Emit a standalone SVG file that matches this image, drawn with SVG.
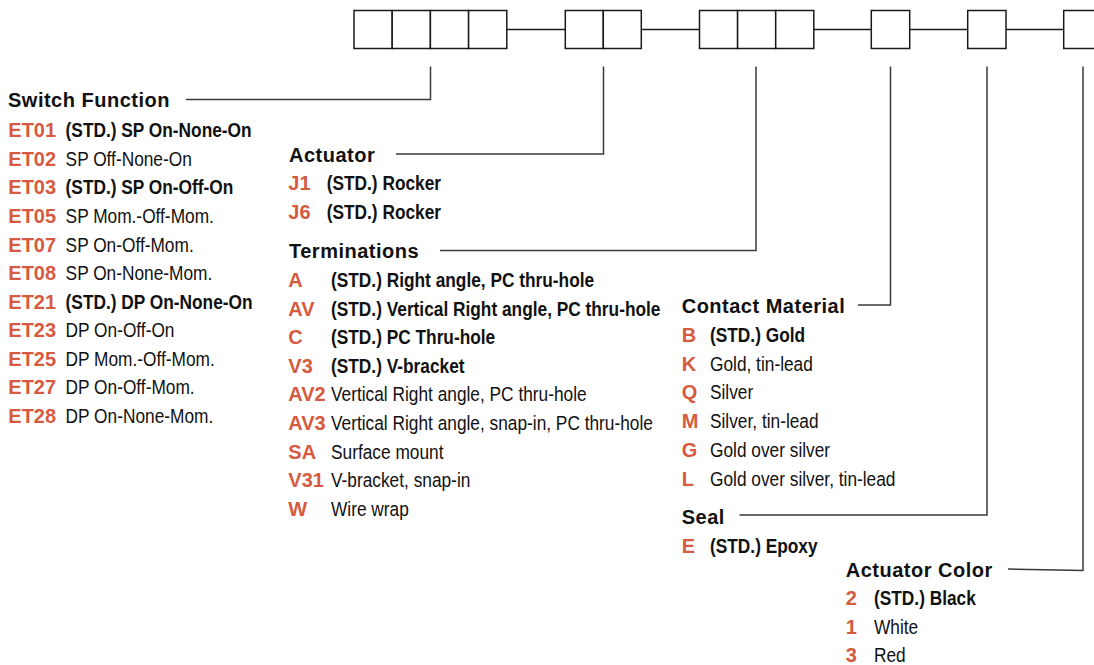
<svg xmlns="http://www.w3.org/2000/svg" width="1094" height="665" viewBox="0 0 1094 665">
<style>
.box{fill:#fff;stroke:#1a1a1a;stroke-width:1.5}
.lead{fill:none;stroke:#3a3a3a;stroke-width:1.5}
.join{fill:none;stroke:#1a1a1a;stroke-width:1.5}
.h{font-family:"Liberation Sans",Arial,sans-serif;font-weight:bold;font-size:20px;letter-spacing:0.5px;fill:#111}
.c{font-family:"Liberation Sans",Arial,sans-serif;font-weight:bold;font-size:20px;fill:#d65a3f}
.d{font-family:"Liberation Sans",Arial,sans-serif;font-size:19.5px;fill:#111}
.db{font-family:"Liberation Sans",Arial,sans-serif;font-size:19.5px;font-weight:bold;fill:#111}
</style>
<g id="connectors">
<line class="join" x1="506.8" y1="29.5" x2="565.3" y2="29.5"/>
<line class="join" x1="641.3" y1="29.5" x2="699.5" y2="29.5"/>
<line class="join" x1="813.8" y1="29.5" x2="871.3" y2="29.5"/>
<line class="join" x1="909.7" y1="29.5" x2="967.7" y2="29.5"/>
<line class="join" x1="1006" y1="29.5" x2="1063.7" y2="29.5"/>
<polyline class="lead" points="186,99.5 430.5,99.5 430.5,66.5"/>
<polyline class="lead" points="396,154 603.5,154 603.5,66.5"/>
<polyline class="lead" points="440,250.5 756,250.5 756,66.5"/>
<polyline class="lead" points="858,305 890.5,305 890.5,66.5"/>
<polyline class="lead" points="739.5,515 987,515 987,66.5"/>
<polyline class="lead" points="1008,569 1083,570.5 1083,66.5"/>
</g>
<g id="box-switch-function">
<rect class="box" x="354" y="10.5" width="38.2" height="38"/>
<rect class="box" x="392.2" y="10.5" width="38.2" height="38"/>
<rect class="box" x="430.4" y="10.5" width="38.2" height="38"/>
<rect class="box" x="468.6" y="10.5" width="38.2" height="38"/>
</g>
<g id="box-actuator">
<rect class="box" x="565.3" y="10.5" width="38" height="38"/>
<rect class="box" x="603.3" y="10.5" width="38" height="38"/>
</g>
<g id="box-terminations">
<rect class="box" x="699.5" y="10.5" width="38.1" height="38"/>
<rect class="box" x="737.6" y="10.5" width="38.1" height="38"/>
<rect class="box" x="775.7" y="10.5" width="38.1" height="38"/>
</g>
<g id="box-contact">
<rect class="box" x="871.3" y="10.5" width="38.4" height="38"/>
</g>
<g id="box-seal">
<rect class="box" x="967.7" y="10.5" width="38.3" height="38"/>
</g>
<g id="box-color">
<rect class="box" x="1063.7" y="10.5" width="38.3" height="38"/>
</g>
<g id="switch-function">
<text class="h" x="8" y="107.3">Switch Function</text>
<text class="c" x="8.3" y="137.3">ET01</text><text class="db" transform="translate(65.6,137.3) scale(0.887,1)">(STD.) SP On-None-On</text>
<text class="c" x="8.3" y="165.8">ET02</text><text class="d" transform="translate(65.6,165.8) scale(0.887,1)">SP Off-None-On</text>
<text class="c" x="8.3" y="194.4">ET03</text><text class="db" transform="translate(65.6,194.4) scale(0.887,1)">(STD.) SP On-Off-On</text>
<text class="c" x="8.3" y="222.9">ET05</text><text class="d" transform="translate(65.6,222.9) scale(0.887,1)">SP Mom.-Off-Mom.</text>
<text class="c" x="8.3" y="251.5">ET07</text><text class="d" transform="translate(65.6,251.5) scale(0.887,1)">SP On-Off-Mom.</text>
<text class="c" x="8.3" y="280">ET08</text><text class="d" transform="translate(65.6,280) scale(0.887,1)">SP On-None-Mom.</text>
<text class="c" x="8.3" y="308.5">ET21</text><text class="db" transform="translate(65.6,308.5) scale(0.887,1)">(STD.) DP On-None-On</text>
<text class="c" x="8.3" y="337.1">ET23</text><text class="d" transform="translate(65.6,337.1) scale(0.887,1)">DP On-Off-On</text>
<text class="c" x="8.3" y="365.6">ET25</text><text class="d" transform="translate(65.6,365.6) scale(0.887,1)">DP Mom.-Off-Mom.</text>
<text class="c" x="8.3" y="394.2">ET27</text><text class="d" transform="translate(65.6,394.2) scale(0.887,1)">DP On-Off-Mom.</text>
<text class="c" x="8.3" y="422.7">ET28</text><text class="d" transform="translate(65.6,422.7) scale(0.887,1)">DP On-None-Mom.</text>
</g>
<g id="actuator">
<text class="h" x="289" y="161.7">Actuator</text>
<text class="c" x="288.3" y="190">J1</text><text class="db" transform="translate(326.7,190) scale(0.887,1)">(STD.) Rocker</text>
<text class="c" x="288.3" y="219">J6</text><text class="db" transform="translate(326.7,219) scale(0.887,1)">(STD.) Rocker</text>
</g>
<g id="terminations">
<text class="h" x="289" y="258.3">Terminations</text>
<text class="c" x="288.3" y="286.7">A</text><text class="db" transform="translate(331,286.7) scale(0.887,1)">(STD.) Right angle, PC thru-hole</text>
<text class="c" x="288.3" y="315.5">AV</text><text class="db" transform="translate(331,315.5) scale(0.887,1)">(STD.) Vertical Right angle, PC thru-hole</text>
<text class="c" x="288.3" y="344.2">C</text><text class="db" transform="translate(331,344.2) scale(0.887,1)">(STD.) PC Thru-hole</text>
<text class="c" x="288.3" y="372.8">V3</text><text class="db" transform="translate(331,372.8) scale(0.887,1)">(STD.) V-bracket</text>
<text class="c" x="288.3" y="401.4">AV2</text><text class="d" transform="translate(331,401.4) scale(0.887,1)">Vertical Right angle, PC thru-hole</text>
<text class="c" x="288.3" y="430">AV3</text><text class="d" transform="translate(331,430) scale(0.887,1)">Vertical Right angle, snap-in, PC thru-hole</text>
<text class="c" x="288.3" y="458.7">SA</text><text class="d" transform="translate(331,458.7) scale(0.887,1)">Surface mount</text>
<text class="c" x="288.3" y="487.4">V31</text><text class="d" transform="translate(331,487.4) scale(0.887,1)">V-bracket, snap-in</text>
<text class="c" x="288.3" y="516">W</text><text class="d" transform="translate(331,516) scale(0.887,1)">Wire wrap</text>
</g>
<g id="contact-material">
<text class="h" x="681.7" y="313.3">Contact Material</text>
<text class="c" x="681.7" y="342.2">B</text><text class="db" transform="translate(710,342.2) scale(0.887,1)">(STD.) Gold</text>
<text class="c" x="681.7" y="370.8">K</text><text class="d" transform="translate(710,370.8) scale(0.887,1)">Gold, tin-lead</text>
<text class="c" x="681.7" y="399.4">Q</text><text class="d" transform="translate(710,399.4) scale(0.887,1)">Silver</text>
<text class="c" x="681.7" y="428">M</text><text class="d" transform="translate(710,428) scale(0.887,1)">Silver, tin-lead</text>
<text class="c" x="681.7" y="456.7">G</text><text class="d" transform="translate(710,456.7) scale(0.887,1)">Gold over silver</text>
<text class="c" x="681.7" y="485.5">L</text><text class="d" transform="translate(710,485.5) scale(0.887,1)">Gold over silver, tin-lead</text>
</g>
<g id="seal">
<text class="h" x="681.7" y="524.3">Seal</text>
<text class="c" x="681.7" y="553.3">E</text><text class="db" transform="translate(710,553.3) scale(0.887,1)">(STD.) Epoxy</text>
</g>
<g id="actuator-color">
<text class="h" x="845.7" y="576.7">Actuator Color</text>
<text class="c" x="845.7" y="605">2</text><text class="db" transform="translate(874,605) scale(0.887,1)">(STD.) Black</text>
<text class="c" x="845.7" y="633.7">1</text><text class="d" transform="translate(874,633.7) scale(0.887,1)">White</text>
<text class="c" x="845.7" y="662.3">3</text><text class="d" transform="translate(874,662.3) scale(0.887,1)">Red</text>
</g>
</svg>
